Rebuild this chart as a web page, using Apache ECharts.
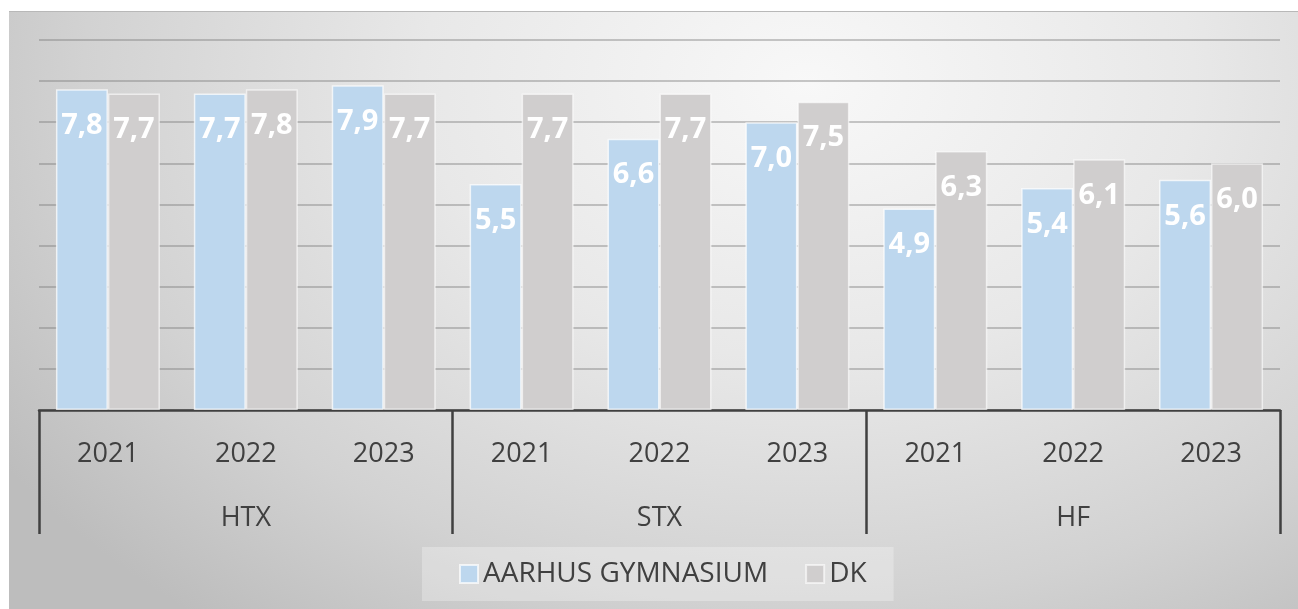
<!DOCTYPE html>
<html>
<head>
<meta charset="utf-8">
<script src="https://cdn.jsdelivr.net/npm/echarts@6/dist/echarts.min.js"></script>
<style>
  html, body { margin: 0; padding: 0; background: #ffffff; }
  #bg { position: absolute; left: 9px; top: 11px; width: 1289px; height: 598px;
        border-top: 1px solid #b8b8b8; box-sizing: border-box;
        background: radial-gradient(ellipse 75% 115% at 62% 12%, #f8f8f8 0%, #e8e8e8 40%, #d2d2d2 75%, #bdbdbd 100%); }
  #chart { position: absolute; left: 0; top: 0; width: 1298px; height: 609px; }
</style>
</head>
<body>
<div id="bg"></div>
<div id="chart"></div>
<script>
const years = ['2021', '2022', '2023', '2021', '2022', '2023', '2021', '2022', '2023'];
const groups = ['HTX', 'STX', 'HF'];
const aarhus = [7.8, 7.7, 7.9, 5.5, 6.6, 7.0, 4.9, 5.4, 5.6];
const dk = [7.7, 7.8, 7.7, 7.7, 7.7, 7.5, 6.3, 6.1, 6.0];
const yTicks = { min: 0, max: 9, interval: 1 };

const font = '"Open Sans", "Noto Sans", sans-serif';
const chart = echarts.init(document.getElementById('chart'));
const lbl = {
  show: true, position: 'insideTop', distance: 22,
  color: '#ffffff', fontFamily: font, fontWeight: 'bold', fontSize: 29,
  formatter: p => p.value.toFixed(1).replace('.', ',')
};
chart.setOption({
  animation: false,
  grid: { left: 39, right: 18, top: 40, bottom: 199 },
  legend: {
    left: 422, top: 547,
    padding: [13, 27, 13, 37],
    backgroundColor: 'rgba(255,255,255,0.28)',
    itemWidth: 18, itemHeight: 18, itemGap: 37,
    icon: 'rect',
    textStyle: { color: '#404040', fontFamily: font, fontSize: 28 },
    data: ['AARHUS GYMNASIUM', 'DK']
  },
  xAxis: [
    {
      type: 'category', data: years, position: 'bottom',
      axisLine: { show: true, lineStyle: { color: '#404040', width: 2.5 } },
      axisTick: { show: false },
      axisLabel: { interval: 0, margin: 31, color: '#404040', fontFamily: font, fontSize: 27 }
    },
    {
      type: 'category', data: groups, position: 'bottom',
      axisLine: { show: false },
      axisTick: { show: true, length: 124, lineStyle: { color: '#404040', width: 2.5 } },
      axisLabel: { interval: 0, margin: 95, color: '#404040', fontFamily: font, fontSize: 27 }
    }
  ],
  yAxis: {
    type: 'value', min: yTicks.min, max: yTicks.max, interval: yTicks.interval,
    axisLabel: { show: false }, axisLine: { show: false }, axisTick: { show: false },
    splitLine: { lineStyle: { color: 'rgba(120,120,120,0.4)', width: 2 } }
  },
  series: [
    {
      name: 'AARHUS GYMNASIUM', type: 'bar', data: aarhus, xAxisIndex: 0,
      barWidth: 52, barGap: '0%',
      itemStyle: { color: '#bdd7ee', borderColor: 'rgba(255,255,255,0.7)', borderWidth: 1.5 },
      label: lbl
    },
    {
      name: 'DK', type: 'bar', data: dk, xAxisIndex: 0,
      barWidth: 52, barGap: '0%',
      itemStyle: { color: '#d0cece', borderColor: 'rgba(255,255,255,0.6)', borderWidth: 1.5 },
      label: lbl
    }
  ]
});
</script>
</body>
</html>
